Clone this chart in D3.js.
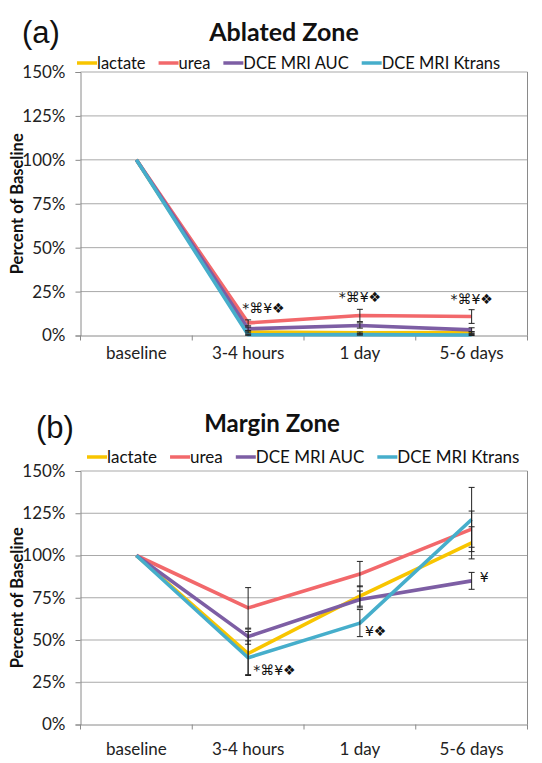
<!DOCTYPE html>
<html>
<head>
<meta charset="utf-8">
<script src="https://cdn.jsdelivr.net/npm/d3@7"></script>
<style>
  html, body { margin: 0; padding: 0; background: #fff; }
  svg { display: block; }
</style>
</head>
<body>
<svg id="chart" width="542" height="763"></svg>
<script>
// ---------- DATA ----------
const categories = ["baseline", "3-4 hours", "1 day", "5-6 days"];
const seriesNames = ["lactate", "urea", "DCE MRI AUC", "DCE MRI Ktrans"];
const yTicks = [0, 25, 50, 75, 100, 125, 150];

// Panel (a) Ablated Zone — percent of baseline
const ablatedLactate = [100, 2.0, 1.5, 1.7];
const ablatedUrea    = [100, 7.2, 11.4, 10.8];
const ablatedAUC     = [100, 3.8, 5.7, 3.2];
const ablatedKtrans  = [100, 0.4, 0.5, 0.3];
const ablatedLactateErr = [0, 0.5, 0.5, 0.5];
const ablatedUreaErr    = [0, 1.7, 3.5, 3.9];
const ablatedAUCErr     = [0, 1.0, 1.5, 1.2];
const ablatedKtransErr  = [0, 0.3, 0.3, 0.3];
const ablatedNotes = [
  { cat: "3-4 hours", text: "*⌘¥❖" },
  { cat: "1 day", text: "*⌘¥❖" },
  { cat: "5-6 days", text: "*⌘¥❖" }
];

// Panel (b) Margin Zone — percent of baseline
const marginLactate = [100, 42, 76, 107.5];
const marginUrea    = [100, 69, 89, 115.6];
const marginAUC     = [100, 52, 74, 85];
const marginKtrans  = [100, 39.5, 60, 121.3];
const marginLactateErr = [0, 13, 6, 9.5];
const marginUreaErr    = [0, 12, 7.5, 10.7];
const marginAUCErr     = [0, 4.5, 5, 5];
const marginKtransErr  = [0, 10, 8, 19];
const marginNotes = [
  { cat: "3-4 hours", text: "*⌘¥❖" },
  { cat: "1 day", text: "¥❖" },
  { cat: "5-6 days", text: "¥" }
];

// ---------- STYLE ----------
const colors = ["#F8C500", "#F2686B", "#7D5EA4", "#46AECB"];
const FONT = "Lato, 'Open Sans', sans-serif";
const svg = d3.select("#chart");
svg.append("rect").attr("width", 542).attr("height", 763).attr("fill", "#fff");

function drawPanel(opt) {
  const g = svg.append("g");
  const x = d3.scaleBand().domain(categories).range([opt.left, opt.right]);
  const y = d3.scaleLinear().domain([0, 150]).range([opt.bottom, opt.top]);

  // panel letter
  g.append("text").attr("x", opt.letterX).attr("y", opt.letterY)
    .attr("font-family", "'Liberation Sans', Arial, sans-serif")
    .attr("font-size", 31).attr("fill", "#111").text(opt.letter);

  // title
  g.append("text").attr("x", opt.titleX).attr("y", opt.titleY)
    .attr("text-anchor", "middle").attr("font-family", FONT)
    .attr("font-weight", "bold").attr("font-size", opt.titleFont).attr("fill", "#111")
    .text(opt.title);

  // legend
  const leg = g.append("g").attr("transform", `translate(${opt.legendX},${opt.legendY})`);
  let lx = 0;
  seriesNames.forEach((n, i) => {
    leg.append("line").attr("x1", lx).attr("x2", lx + opt.legendSwatch)
      .attr("y1", -6).attr("y2", -6).attr("stroke", colors[i]).attr("stroke-width", 3.5);
    const t = leg.append("text").attr("x", lx + opt.legendSwatch).attr("y", 0)
      .attr("font-family", FONT).attr("font-size", opt.legendFont).attr("fill", "#111").text(n);
    lx += opt.legendSwatch + t.node().getComputedTextLength() + opt.legendGap;
  });

  // gridlines
  g.append("g").selectAll("line").data(yTicks.filter(d => d > 0)).join("line")
    .attr("x1", opt.left).attr("x2", opt.right)
    .attr("y1", d => y(d)).attr("y2", d => y(d))
    .attr("stroke", "#a9a9a9").attr("stroke-width", 1);
  // right border
  g.append("line").attr("x1", opt.right).attr("x2", opt.right)
    .attr("y1", y(150)).attr("y2", y(0)).attr("stroke", "#8a8a8a").attr("stroke-width", 1);

  // y axis
  const yAxis = d3.axisLeft(y).tickValues(yTicks).tickFormat(d => d + "%").tickSize(5).tickPadding(10);
  const ya = g.append("g").attr("transform", `translate(${opt.left},0)`).call(yAxis);
  ya.select(".domain").attr("stroke", "#8a8a8a");
  ya.selectAll(".tick line").attr("stroke", "#8a8a8a");
  ya.selectAll(".tick text").attr("font-family", FONT).attr("font-size", 17).attr("fill", "#222");

  // x axis
  const xAxis = d3.axisBottom(x).tickSize(0).tickPadding(opt.xPad);
  const xa = g.append("g").attr("transform", `translate(0,${y(0)})`).call(xAxis);
  xa.select(".domain").attr("stroke", "#8a8a8a");
  xa.selectAll(".tick text").attr("font-family", FONT).attr("font-size", 17).attr("fill", "#222");
  // category boundary ticks
  const bounds = categories.map(c => x(c)).concat([x.range()[1]]);
  xa.append("g").selectAll("line").data(bounds).join("line")
    .attr("x1", d => d).attr("x2", d => d).attr("y1", 0).attr("y2", 5)
    .attr("stroke", "#8a8a8a");

  // y title
  g.append("text")
    .attr("transform", `translate(${opt.yTitleX},${(y(0) + y(150)) / 2}) rotate(-90)`)
    .attr("text-anchor", "middle").attr("font-family", FONT).attr("font-weight", "bold")
    .attr("font-size", 16.5).attr("fill", "#111").text("Percent of Baseline");

  const cx = c => x(c) + x.bandwidth() / 2;
  const line = d3.line().x((d, i) => cx(categories[i])).y(d => y(d));

  opt.series.forEach((s, i) => {
    g.append("path").datum(s).attr("d", line).attr("fill", "none")
      .attr("stroke", colors[i]).attr("stroke-width", 3.6)
      .attr("stroke-linejoin", "round").attr("stroke-linecap", "butt");
  });

  // error bars
  opt.series.forEach((s, i) => {
    const err = opt.errors[i];
    s.forEach((v, j) => {
      if (!err[j]) return;
      const px = cx(categories[j]);
      const eb = g.append("g").attr("stroke", "#222").attr("stroke-width", 1);
      eb.append("line").attr("x1", px).attr("x2", px).attr("y1", y(v - err[j])).attr("y2", y(v + err[j]));
      [v - err[j], v + err[j]].forEach(e => {
        eb.append("line").attr("x1", px - 3).attr("x2", px + 3).attr("y1", y(e)).attr("y2", y(e));
      });
    });
  });

  // annotations
  opt.notes.forEach((n, k) => {
    const j = categories.indexOf(n.cat);
    const pl = opt.notePlace[k];
    const s = opt.series[pl.series];
    g.append("text").attr("x", cx(n.cat) + pl.dx).attr("y", y(s[j]) + pl.dy)
      .attr("text-anchor", pl.anchor).attr("font-family", "'DejaVu Sans', sans-serif")
      .attr("font-size", 14).attr("fill", "#111").text(n.text);
  });
}

drawPanel({
  letter: "(a)", letterX: 22, letterY: 43,
  title: "Ablated Zone", titleX: 284, titleY: 41, titleFont: 25,
  legendX: 77, legendY: 69, legendSwatch: 20, legendFont: 16.5, legendGap: 13,
  left: 80.5, right: 527.5, top: 72, bottom: 335.5, xPad: 11,
  yTitleX: 23,
  series: [ablatedLactate, ablatedUrea, ablatedAUC, ablatedKtrans],
  errors: [ablatedLactateErr, ablatedUreaErr, ablatedAUCErr, ablatedKtransErr],
  notes: ablatedNotes,
  notePlace: [
    { series: 1, dx: -6, dy: -10, anchor: "start" },
    { series: 1, dx: 0, dy: -13, anchor: "middle" },
    { series: 1, dx: 0, dy: -13, anchor: "middle" }
  ]
});

drawPanel({
  letter: "(b)", letterX: 36, letterY: 438,
  title: "Margin Zone", titleX: 272, titleY: 432, titleFont: 24,
  legendX: 87, legendY: 463, legendSwatch: 20, legendFont: 17, legendGap: 13,
  left: 80.5, right: 527.5, top: 471, bottom: 724.5, xPad: 18,
  yTitleX: 23,
  series: [marginLactate, marginUrea, marginAUC, marginKtrans],
  errors: [marginLactateErr, marginUreaErr, marginAUCErr, marginKtransErr],
  notes: marginNotes,
  notePlace: [
    { series: 3, dx: 5, dy: 17, anchor: "start" },
    { series: 3, dx: 5, dy: 13, anchor: "start" },
    { series: 2, dx: 8, dy: 1, anchor: "start" }
  ]
});
</script>
</body>
</html>
